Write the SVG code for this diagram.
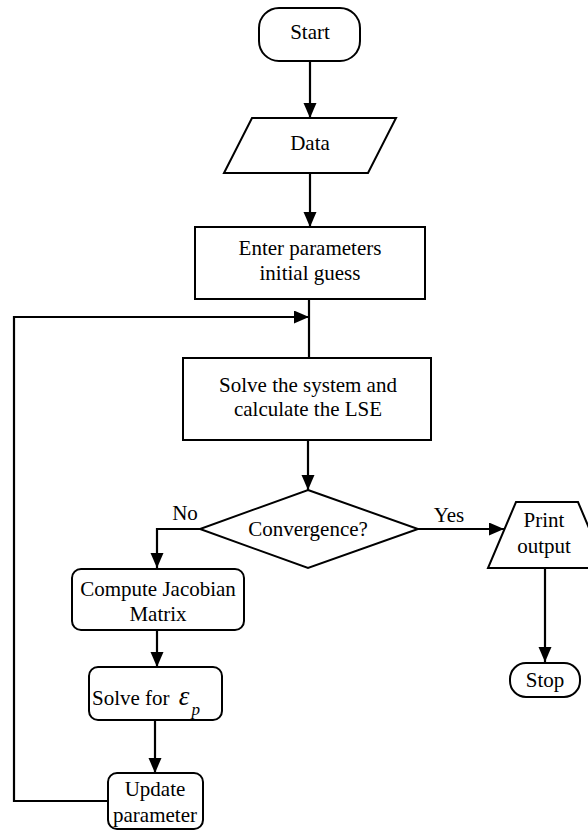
<svg xmlns="http://www.w3.org/2000/svg" width="588" height="830" viewBox="0 0 588 830" font-family="Liberation Serif, Tinos, Times New Roman, DejaVu Serif, serif">
<style>
.s{fill:#fff;stroke:#000;stroke-width:2}
.t{font-family:'Liberation Serif',Tinos,'Times New Roman','DejaVu Serif',serif;font-size:21px;fill:#000;text-anchor:middle}
.c{fill:none;stroke:#000;stroke-width:2.2}
</style>
<defs>
<marker id="ah" markerUnits="userSpaceOnUse" markerWidth="15" markerHeight="14" refX="15" refY="6.5" orient="auto">
<path d="M0,0 L15,6.5 L0,13 z" fill="#000"/>
</marker>
</defs>
<rect width="588" height="830" fill="#fff"/>
<g id="connectors">
<line class="c" x1="310" y1="61" x2="310" y2="118" marker-end="url(#ah)"/>
<line class="c" x1="310" y1="173" x2="310" y2="227" marker-end="url(#ah)"/>
<line class="c" x1="309" y1="299" x2="309" y2="358"/>
<path class="c" d="M107,801 H14 V317 H309" marker-end="url(#ah)"/>
<line class="c" x1="308" y1="440" x2="308" y2="490" marker-end="url(#ah)"/>
<path class="c" d="M200,529 H157 V568" marker-end="url(#ah)"/>
<line class="c" x1="157" y1="630" x2="157" y2="667" marker-end="url(#ah)"/>
<line class="c" x1="155" y1="720" x2="155" y2="773" marker-end="url(#ah)"/>
<line class="c" x1="418" y1="529" x2="504" y2="529" marker-end="url(#ah)"/>
<line class="c" x1="545" y1="568" x2="545" y2="662" marker-end="url(#ah)"/>
<text class="t" x="185" y="520">No</text>
<text class="t" x="449" y="522">Yes</text>
</g>
<g id="start">
<rect class="s" x="259" y="8" width="101" height="53" rx="20"/>
<text class="t" x="310" y="39">Start</text>
</g>
<g id="data">
<polygon class="s" points="252,118 396,118 368,173 224,173"/>
<text class="t" x="310" y="150">Data</text>
</g>
<g id="enter">
<rect class="s" x="195" y="227" width="230" height="72"/>
<text class="t" x="310" y="255">Enter parameters</text>
<text class="t" x="310" y="280">initial guess</text>
</g>
<g id="solve">
<rect class="s" x="183" y="358" width="248" height="82"/>
<text class="t" x="308" y="392">Solve the system and</text>
<text class="t" x="308" y="416">calculate the LSE</text>
</g>
<g id="convergence">
<polygon class="s" points="308,490 418,529 308,568 200,529"/>
<text class="t" x="308" y="536">Convergence?</text>
</g>
<g id="print">
<polygon class="s" points="516,502 578,502 606,568 488,568"/>
<text class="t" x="544" y="527">Print</text>
<text class="t" x="544" y="553">output</text>
</g>
<g id="stop">
<rect class="s" x="510" y="663" width="70" height="34" rx="16"/>
<text class="t" x="545" y="687">Stop</text>
</g>
<g id="jacobian">
<rect class="s" x="72" y="569" width="172" height="61" rx="9"/>
<text class="t" x="158" y="596">Compute Jacobian</text>
<text class="t" x="158" y="621">Matrix</text>
</g>
<g id="solvefor">
<rect class="s" x="89" y="667" width="133" height="53" rx="9"/>
<text class="t" x="92" y="705" style="text-anchor:start">Solve for <tspan font-style="italic" font-size="27px" dx="4">ε</tspan><tspan font-style="italic" font-size="17px" dx="2" dy="10">p</tspan></text>
</g>
<g id="update">
<rect class="s" x="108" y="773" width="95" height="56" rx="9"/>
<text class="t" x="155" y="796">Update</text>
<text class="t" x="155" y="822">parameter</text>
</g>
</svg>
